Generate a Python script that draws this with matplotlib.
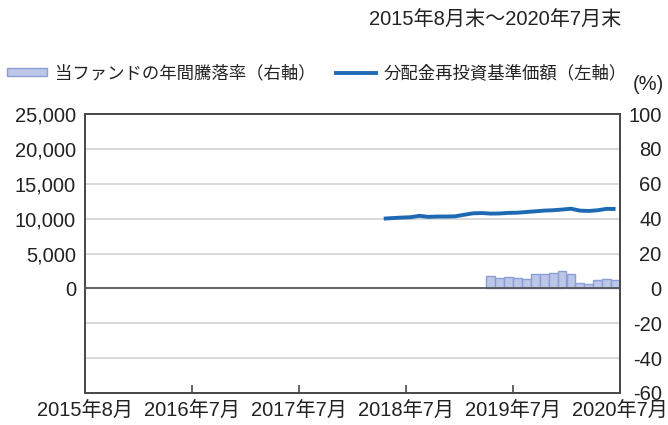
import matplotlib as mpl
import matplotlib.pyplot as plt
import numpy as np
import pandas as pd
from matplotlib.patches import Patch
from matplotlib.lines import Line2D

# months shown on the category axis
months = pd.period_range("2015-08", "2020-07", freq="M")
tick_labels = ["2015年8月", "2016年7月", "2017年7月", "2018年7月", "2019年7月", "2020年7月"]

# annual return of the fund (%), right axis, from 2019-05
bar_start = "2019-05"
bar_vals = [7.0, 5.9, 6.7, 6.1, 5.1, 8.0, 8.4, 9.1, 9.7, 8.2, 3.0, 2.3, 4.6, 5.5, 4.6]

# NAV with dividends reinvested (yen), left axis, from 2018-05
line_start = "2018-05"
line_vals = [10000, 10080, 10150, 10200, 10400, 10250, 10300, 10300, 10330, 10550,
             10760, 10800, 10720, 10740, 10820, 10850, 10950, 11050, 11150, 11200,
             11300, 11420, 11150, 11100, 11200, 11400, 11380]

BAR_FILL = "#bcc6e7"
BAR_EDGE = "#8c9ed6"
LINE = "#1d69b4"
TXT = "#222222"
SPINE = "#4a4a4a"

mpl.rcParams.update({
    "font.family": ["Liberation Sans", "Noto Sans CJK JP", "DejaVu Sans"],
    "font.size": 14.5,
    "text.color": TXT,
    "axes.unicode_minus": False,
})

fig = plt.figure(figsize=(6.68, 4.25), dpi=100)
ax = fig.add_axes([85 / 668, 1 - 393 / 425, 535 / 668, 279 / 425])
ax2 = ax.twinx()

idx = np.arange(len(months))
b0 = list(months.astype(str)).index(bar_start)
l0 = list(months.astype(str)).index(line_start)

# grid lines every 20% on the right axis
for v in [-40, -20, 20, 40, 60, 80]:
    ax2.axhline(v, color="#d2d2d2", lw=1.2, zorder=0)
ax2.axhline(0, color="#555555", lw=1.3, zorder=3)

ax2.bar(idx[b0:b0 + len(bar_vals)], bar_vals, width=1.0, color=BAR_FILL,
        edgecolor=BAR_EDGE, linewidth=1.0, zorder=2)
ax.plot(idx[l0:l0 + len(line_vals)], line_vals, color=LINE, lw=2.8,
        solid_capstyle="butt", zorder=5)
ax.set_zorder(ax2.get_zorder() + 1)
ax.patch.set_visible(False)

ax.set_xlim(-0.5, len(months) - 0.5)
ax.set_ylim(-15000, 25000)
ax2.set_ylim(-60, 100)

ax.set_yticks(np.arange(0, 25001, 5000))
ax.set_yticklabels([f"{v:,}" for v in range(0, 25001, 5000)])
ax2.set_yticks(np.arange(-60, 101, 20))

ax.set_xticks(np.arange(-0.5, len(months), 12))
ax.set_xticklabels(tick_labels)

ax.tick_params(axis="y", length=0, pad=6.5, colors=TXT)
ax2.tick_params(axis="y", length=0, pad=30, colors=TXT)
for t in ax2.get_yticklabels():
    t.set_horizontalalignment("right")
ax.tick_params(axis="x", direction="in", length=6, width=1.2, color=SPINE,
               pad=6.5, labelcolor=TXT)

for a in (ax, ax2):
    for s in a.spines.values():
        s.set_color(SPINE)
        s.set_linewidth(1.3)

handles = [
    Patch(facecolor=BAR_FILL, edgecolor=BAR_EDGE, linewidth=1.0),
    Line2D([0], [0], color=LINE, lw=2.8),
]
labels = ["当ファンドの年間騰落率（右軸）", "分配金再投資基準価額（左軸）"]
fig.legend(handles, labels, loc="center left", bbox_to_anchor=(7 / 668, 1 - 73 / 425),
           ncol=2, frameon=False, fontsize=12.5, handlelength=2.3, handleheight=0.3,
           handletextpad=0.45, columnspacing=1.2, borderaxespad=0, borderpad=0)

fig.text(621 / 668, 1 - 20 / 425, "2015年8月末～2020年7月末", ha="right", va="center",
         fontsize=14.5)
fig.text(648 / 668, 1 - 85 / 425, "(%)", ha="center", va="center", fontsize=14.5)

fig.savefig("out.png", dpi=100)
